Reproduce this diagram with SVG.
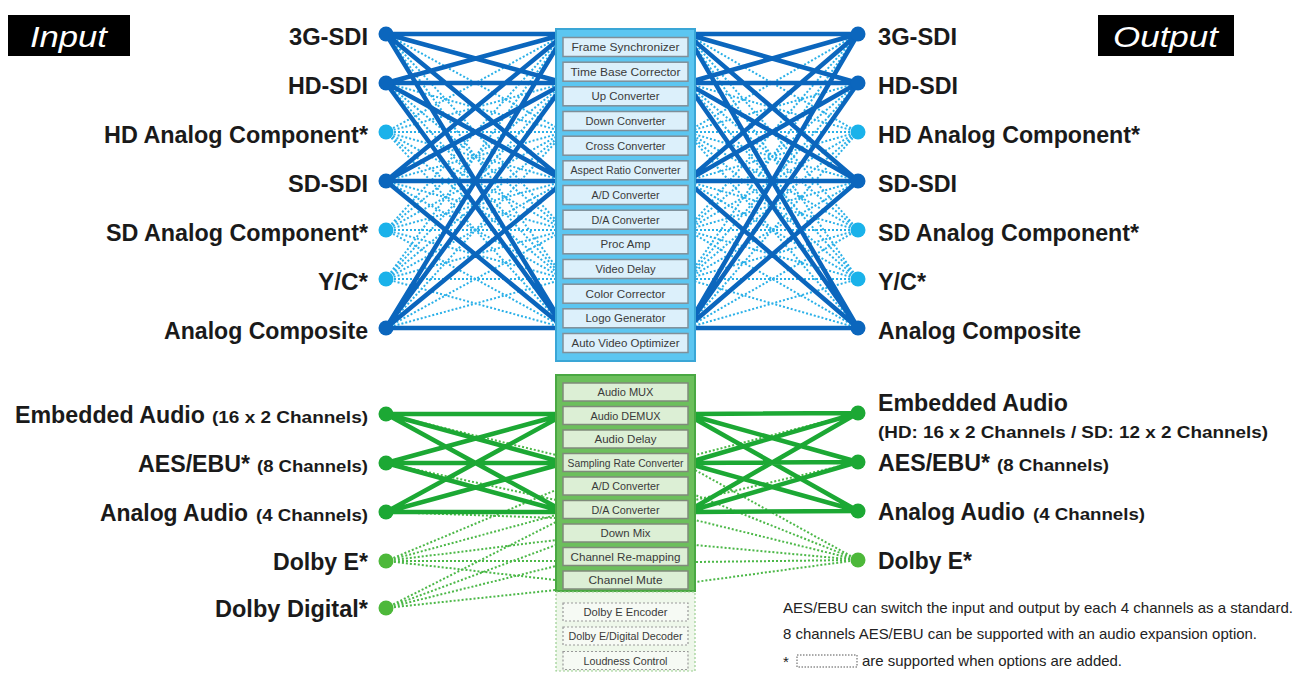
<svg xmlns="http://www.w3.org/2000/svg" width="1310" height="673" viewBox="0 0 1310 673">
<style>
.lbl{font-family:"Liberation Sans Narrow","Liberation Sans",Arial,sans-serif;font-weight:bold;font-size:24px;fill:#1a1a1a}
.sm{font-family:"Liberation Sans Narrow","Liberation Sans",Arial,sans-serif;font-weight:bold;font-size:17px;fill:#1a1a1a}
.hdr{font-family:"Liberation Sans",Arial,sans-serif;font-style:italic;font-size:30px;fill:#fff}
.it{font-family:"Liberation Sans Narrow","Liberation Sans",Arial,sans-serif;font-size:11.5px;fill:#3a3a3a;text-anchor:middle}
.note{font-family:"Liberation Sans Narrow","Liberation Sans",Arial,sans-serif;font-size:15px;fill:#222}
.vitem{fill:#dcf0fb;stroke:#7f8f99;stroke-width:1.5}
.aitem{fill:#dcefd5;stroke:#7f8a7a;stroke-width:1.5}
.oitem{fill:#f6faf4;stroke:#999;stroke-width:1.2;stroke-dasharray:2 2}
.vs{stroke:#0b66bd;stroke-width:4.5;fill:none;stroke-linecap:round}
.vd{stroke:#2ab0e8;stroke-width:2;fill:none;stroke-dasharray:2 2}
.as{stroke:#1ca834;stroke-width:4.5;fill:none;stroke-linecap:round}
.ad{stroke:#4cb848;stroke-width:2;fill:none;stroke-dasharray:2 2}
.dk{fill:#0b66bd}.lt{fill:#1ab2ea}.gk{fill:#1ca834}.gl{fill:#4db83a}
</style>
<rect width="1310" height="673" fill="#fff"/>

<g id="connectors">
<path class="vd" d="M386,34L556,127.1M386,34L556,220.2M386,34L556,266.75M386,83L556,129.55M386,83L556,222.65M386,83L556,269.2M386,132L556,38.9M386,132L556,85.45M386,132L556,132M386,132L556,178.55M386,132L556,225.1M386,132L556,271.65M386,132L556,318.2M386,181L556,134.45M386,181L556,227.55M386,181L556,274.1M386,230L556,43.8M386,230L556,90.35M386,230L556,136.9M386,230L556,183.45M386,230L556,230M386,230L556,276.55M386,230L556,323.1M386,279L556,46.25M386,279L556,92.8M386,279L556,139.35M386,279L556,185.9M386,279L556,232.45M386,279L556,279M386,279L556,325.55M386,328L556,141.8M386,328L556,234.9M386,328L556,281.45"/>
<path class="vd" d="M858,34L695,127.1M858,34L695,220.2M858,34L695,266.75M858,83L695,129.55M858,83L695,222.65M858,83L695,269.2M858,132L695,38.9M858,132L695,85.45M858,132L695,132M858,132L695,178.55M858,132L695,225.1M858,132L695,271.65M858,132L695,318.2M858,181L695,134.45M858,181L695,227.55M858,181L695,274.1M858,230L695,43.8M858,230L695,90.35M858,230L695,136.9M858,230L695,183.45M858,230L695,230M858,230L695,276.55M858,230L695,323.1M858,279L695,46.25M858,279L695,92.8M858,279L695,139.35M858,279L695,185.9M858,279L695,232.45M858,279L695,279M858,279L695,325.55M858,328L695,141.8M858,328L695,234.9M858,328L695,281.45"/>
<path class="vs" d="M386,34L556,34M386,34L556,80.5M386,34L556,173.6M386,34L556,313.3M386,83L556,36.5M386,83L556,83M386,83L556,176.1M386,83L556,315.8M386,181L556,41.4M386,181L556,87.9M386,181L556,181M386,181L556,320.7M386,328L556,48.7M386,328L556,95.3M386,328L556,188.4M386,328L556,328"/>
<path class="vs" d="M858,34L695,34M858,34L695,80.5M858,34L695,173.6M858,34L695,313.3M858,83L695,36.5M858,83L695,83M858,83L695,176.1M858,83L695,315.8M858,181L695,41.4M858,181L695,87.9M858,181L695,181M858,181L695,320.7M858,328L695,48.7M858,328L695,95.3M858,328L695,188.4M858,328L695,328"/>
<path class="ad" d="M386,414L556,455M386,463L556,500M386,512L556,518M386,561L556,490M386,561L556,515M386,561L556,540M386,561L556,561M386,561L556,580M386,608L556,522M386,608L556,545M386,608L556,566M386,608L556,590"/>
<path class="ad" d="M858,560L695,470M858,560L695,495M858,560L695,520M858,560L695,545M858,560L695,562M858,560L695,582M858,413L695,455M858,462L695,500"/>
<path class="as" d="M386,414L556,414M386,414L556,460.5M386,414L556,507M386,463L556,416.5M386,463L556,463M386,463L556,509.5M386,512L556,419M386,512L556,465.5M386,512L556,512"/>
<path class="as" d="M858,413L695,414M858,413L695,460.5M858,413L695,507M858,462L695,416.5M858,462L695,463M858,462L695,509.5M858,511L695,419M858,511L695,465.5M858,511L695,512"/>
</g>

<g id="input-header"><rect x="8" y="15" width="122" height="41" fill="#000"/><text class="hdr" x="30" y="47" textLength="77" lengthAdjust="spacingAndGlyphs">Input</text></g>
<g id="output-header"><rect x="1098" y="15" width="136" height="41" fill="#000"/><text class="hdr" x="1113" y="47" textLength="105" lengthAdjust="spacingAndGlyphs">Output</text></g>

<g id="video-processor">
<rect x="556" y="29" width="139" height="332" fill="#5cc6f1" stroke="#3aa6d6" stroke-width="2"/>
<rect class="vitem" x="563" y="37.5" width="125" height="19"/><text class="it" x="625.5" y="51" textLength="108" lengthAdjust="spacingAndGlyphs">Frame Synchronizer</text>
<rect class="vitem" x="563" y="62.2" width="125" height="19"/><text class="it" x="625.5" y="75.7" textLength="110" lengthAdjust="spacingAndGlyphs">Time Base Corrector</text>
<rect class="vitem" x="563" y="86.8" width="125" height="19"/><text class="it" x="625.5" y="100.3" textLength="68" lengthAdjust="spacingAndGlyphs">Up Converter</text>
<rect class="vitem" x="563" y="111.5" width="125" height="19"/><text class="it" x="625.5" y="125" textLength="80" lengthAdjust="spacingAndGlyphs">Down Converter</text>
<rect class="vitem" x="563" y="136.2" width="125" height="19"/><text class="it" x="625.5" y="149.7" textLength="80" lengthAdjust="spacingAndGlyphs">Cross Converter</text>
<rect class="vitem" x="563" y="160.8" width="125" height="19"/><text class="it" x="625.5" y="174.3" textLength="110" lengthAdjust="spacingAndGlyphs">Aspect Ratio Converter</text>
<rect class="vitem" x="563" y="185.5" width="125" height="19"/><text class="it" x="625.5" y="199" textLength="68" lengthAdjust="spacingAndGlyphs">A/D Converter</text>
<rect class="vitem" x="563" y="210.2" width="125" height="19"/><text class="it" x="625.5" y="223.7" textLength="68" lengthAdjust="spacingAndGlyphs">D/A Converter</text>
<rect class="vitem" x="563" y="234.8" width="125" height="19"/><text class="it" x="625.5" y="248.3" textLength="50" lengthAdjust="spacingAndGlyphs">Proc Amp</text>
<rect class="vitem" x="563" y="259.5" width="125" height="19"/><text class="it" x="625.5" y="273" textLength="60" lengthAdjust="spacingAndGlyphs">Video Delay</text>
<rect class="vitem" x="563" y="284.2" width="125" height="19"/><text class="it" x="625.5" y="297.7" textLength="80" lengthAdjust="spacingAndGlyphs">Color Corrector</text>
<rect class="vitem" x="563" y="308.8" width="125" height="19"/><text class="it" x="625.5" y="322.3" textLength="80" lengthAdjust="spacingAndGlyphs">Logo Generator</text>
<rect class="vitem" x="563" y="333.5" width="125" height="19"/><text class="it" x="625.5" y="347" textLength="108" lengthAdjust="spacingAndGlyphs">Auto Video Optimizer</text>
</g>

<g id="audio-processor">
<rect x="556" y="375" width="139" height="216" fill="#6cbf5c" stroke="#4aa843" stroke-width="2"/>
<rect class="aitem" x="563" y="383" width="125" height="18"/><text class="it" x="625.5" y="396" textLength="56" lengthAdjust="spacingAndGlyphs">Audio MUX</text>
<rect class="aitem" x="563" y="406.5" width="125" height="18"/><text class="it" x="625.5" y="419.5" textLength="70" lengthAdjust="spacingAndGlyphs">Audio DEMUX</text>
<rect class="aitem" x="563" y="430" width="125" height="18"/><text class="it" x="625.5" y="443" textLength="62" lengthAdjust="spacingAndGlyphs">Audio Delay</text>
<rect class="aitem" x="563" y="453.5" width="125" height="18"/><text class="it" x="625.5" y="466.5" textLength="116" lengthAdjust="spacingAndGlyphs">Sampling Rate Converter</text>
<rect class="aitem" x="563" y="477" width="125" height="18"/><text class="it" x="625.5" y="490" textLength="68" lengthAdjust="spacingAndGlyphs">A/D Converter</text>
<rect class="aitem" x="563" y="500.5" width="125" height="18"/><text class="it" x="625.5" y="513.5" textLength="68" lengthAdjust="spacingAndGlyphs">D/A Converter</text>
<rect class="aitem" x="563" y="524" width="125" height="18"/><text class="it" x="625.5" y="537" textLength="50" lengthAdjust="spacingAndGlyphs">Down Mix</text>
<rect class="aitem" x="563" y="547.5" width="125" height="18"/><text class="it" x="625.5" y="560.5" textLength="110" lengthAdjust="spacingAndGlyphs">Channel Re-mapping</text>
<rect class="aitem" x="563" y="571" width="125" height="18"/><text class="it" x="625.5" y="584" textLength="74" lengthAdjust="spacingAndGlyphs">Channel Mute</text>
</g>

<g id="audio-options">
<rect x="556" y="592" width="139" height="79" fill="#eef7ea" stroke="#9ccf92" stroke-width="1.2" stroke-dasharray="2 2"/>
<rect class="oitem" x="563" y="603" width="125" height="18"/><text class="it" x="625.5" y="616" textLength="84" lengthAdjust="spacingAndGlyphs">Dolby E Encoder</text>
<rect class="oitem" x="563" y="627" width="125" height="18"/><text class="it" x="625.5" y="640" textLength="114" lengthAdjust="spacingAndGlyphs">Dolby E/Digital Decoder</text>
<rect class="oitem" x="563" y="651.5" width="125" height="18"/><text class="it" x="625.5" y="664.5" textLength="84" lengthAdjust="spacingAndGlyphs">Loudness Control</text>
</g>

<g id="in-3g-sdi"><circle class="dk" cx="386" cy="34" r="7.5"/><text class="lbl" x="368" y="45" text-anchor="end" textLength="79" lengthAdjust="spacingAndGlyphs">3G-SDI</text></g>
<g id="in-hd-sdi"><circle class="dk" cx="386" cy="83" r="7.5"/><text class="lbl" x="368" y="94" text-anchor="end" textLength="80" lengthAdjust="spacingAndGlyphs">HD-SDI</text></g>
<g id="in-hd-analog"><circle class="lt" cx="386" cy="132" r="7.5"/><text class="lbl" x="368" y="143" text-anchor="end" textLength="264" lengthAdjust="spacingAndGlyphs">HD Analog Component*</text></g>
<g id="in-sd-sdi"><circle class="dk" cx="386" cy="181" r="7.5"/><text class="lbl" x="368" y="192" text-anchor="end" textLength="80" lengthAdjust="spacingAndGlyphs">SD-SDI</text></g>
<g id="in-sd-analog"><circle class="lt" cx="386" cy="230" r="7.5"/><text class="lbl" x="368" y="241" text-anchor="end" textLength="262" lengthAdjust="spacingAndGlyphs">SD Analog Component*</text></g>
<g id="in-yc"><circle class="lt" cx="386" cy="279" r="7.5"/><text class="lbl" x="368" y="290" text-anchor="end" textLength="50" lengthAdjust="spacingAndGlyphs">Y/C*</text></g>
<g id="in-composite"><circle class="dk" cx="386" cy="328" r="7.5"/><text class="lbl" x="368" y="339" text-anchor="end" textLength="204" lengthAdjust="spacingAndGlyphs">Analog Composite</text></g>

<g id="out-3g-sdi"><circle class="dk" cx="858" cy="34" r="7.5"/><text class="lbl" x="878" y="45" textLength="79" lengthAdjust="spacingAndGlyphs">3G-SDI</text></g>
<g id="out-hd-sdi"><circle class="dk" cx="858" cy="83" r="7.5"/><text class="lbl" x="878" y="94" textLength="80" lengthAdjust="spacingAndGlyphs">HD-SDI</text></g>
<g id="out-hd-analog"><circle class="lt" cx="858" cy="132" r="7.5"/><text class="lbl" x="878" y="143" textLength="262" lengthAdjust="spacingAndGlyphs">HD Analog Component*</text></g>
<g id="out-sd-sdi"><circle class="dk" cx="858" cy="181" r="7.5"/><text class="lbl" x="878" y="192" textLength="79" lengthAdjust="spacingAndGlyphs">SD-SDI</text></g>
<g id="out-sd-analog"><circle class="lt" cx="858" cy="230" r="7.5"/><text class="lbl" x="878" y="241" textLength="261" lengthAdjust="spacingAndGlyphs">SD Analog Component*</text></g>
<g id="out-yc"><circle class="lt" cx="858" cy="279" r="7.5"/><text class="lbl" x="878" y="290" textLength="48" lengthAdjust="spacingAndGlyphs">Y/C*</text></g>
<g id="out-composite"><circle class="dk" cx="858" cy="328" r="7.5"/><text class="lbl" x="878" y="339" textLength="203" lengthAdjust="spacingAndGlyphs">Analog Composite</text></g>

<g id="in-embedded"><circle class="gk" cx="386" cy="414" r="7.5"/><text class="lbl" x="15" y="423" textLength="190" lengthAdjust="spacingAndGlyphs">Embedded Audio</text><text class="sm" x="368" y="423" text-anchor="end" textLength="156" lengthAdjust="spacingAndGlyphs">(16 x 2 Channels)</text></g>
<g id="in-aes"><circle class="gk" cx="386" cy="463" r="7.5"/><text class="lbl" x="138" y="472" textLength="112" lengthAdjust="spacingAndGlyphs">AES/EBU*</text><text class="sm" x="368" y="472" text-anchor="end" textLength="111" lengthAdjust="spacingAndGlyphs">(8 Channels)</text></g>
<g id="in-analog-audio"><circle class="gk" cx="386" cy="512" r="7.5"/><text class="lbl" x="100" y="521" textLength="148" lengthAdjust="spacingAndGlyphs">Analog Audio</text><text class="sm" x="368" y="521" text-anchor="end" textLength="112" lengthAdjust="spacingAndGlyphs">(4 Channels)</text></g>
<g id="in-dolby-e"><circle class="gl" cx="386" cy="561" r="7.5"/><text class="lbl" x="368" y="570" text-anchor="end" textLength="95" lengthAdjust="spacingAndGlyphs">Dolby E*</text></g>
<g id="in-dolby-digital"><circle class="gl" cx="386" cy="608" r="7.5"/><text class="lbl" x="368" y="617" text-anchor="end" textLength="153" lengthAdjust="spacingAndGlyphs">Dolby Digital*</text></g>

<g id="out-embedded"><circle class="gk" cx="858" cy="413" r="7.5"/><text class="lbl" x="878" y="411" textLength="190" lengthAdjust="spacingAndGlyphs">Embedded Audio</text><text class="sm" x="878" y="438" textLength="390" lengthAdjust="spacingAndGlyphs">(HD: 16 x 2 Channels / SD: 12 x 2 Channels)</text></g>
<g id="out-aes"><circle class="gk" cx="858" cy="462" r="7.5"/><text class="lbl" x="878" y="471" textLength="112" lengthAdjust="spacingAndGlyphs">AES/EBU*</text><text class="sm" x="997" y="471" textLength="112" lengthAdjust="spacingAndGlyphs">(8 Channels)</text></g>
<g id="out-analog-audio"><circle class="gk" cx="858" cy="511" r="7.5"/><text class="lbl" x="878" y="520" textLength="147" lengthAdjust="spacingAndGlyphs">Analog Audio</text><text class="sm" x="1033" y="520" textLength="112" lengthAdjust="spacingAndGlyphs">(4 Channels)</text></g>
<g id="out-dolby-e"><circle class="gl" cx="858" cy="560" r="7.5"/><text class="lbl" x="878" y="569" textLength="94" lengthAdjust="spacingAndGlyphs">Dolby E*</text></g>

<g id="notes">
<text class="note" x="783" y="613" textLength="510" lengthAdjust="spacingAndGlyphs">AES/EBU can switch the input and output by each 4 channels as a standard.</text>
<text class="note" x="783" y="639" textLength="474" lengthAdjust="spacingAndGlyphs">8 channels AES/EBU can be supported with an audio expansion option.</text>
<text class="note" x="783" y="667">*</text>
<rect x="797" y="655" width="60" height="12" fill="none" stroke="#555" stroke-width="1" stroke-dasharray="1.5 1.5"/>
<text class="note" x="862" y="666" textLength="260" lengthAdjust="spacingAndGlyphs">are supported when options are added.</text>
</g>
</svg>
